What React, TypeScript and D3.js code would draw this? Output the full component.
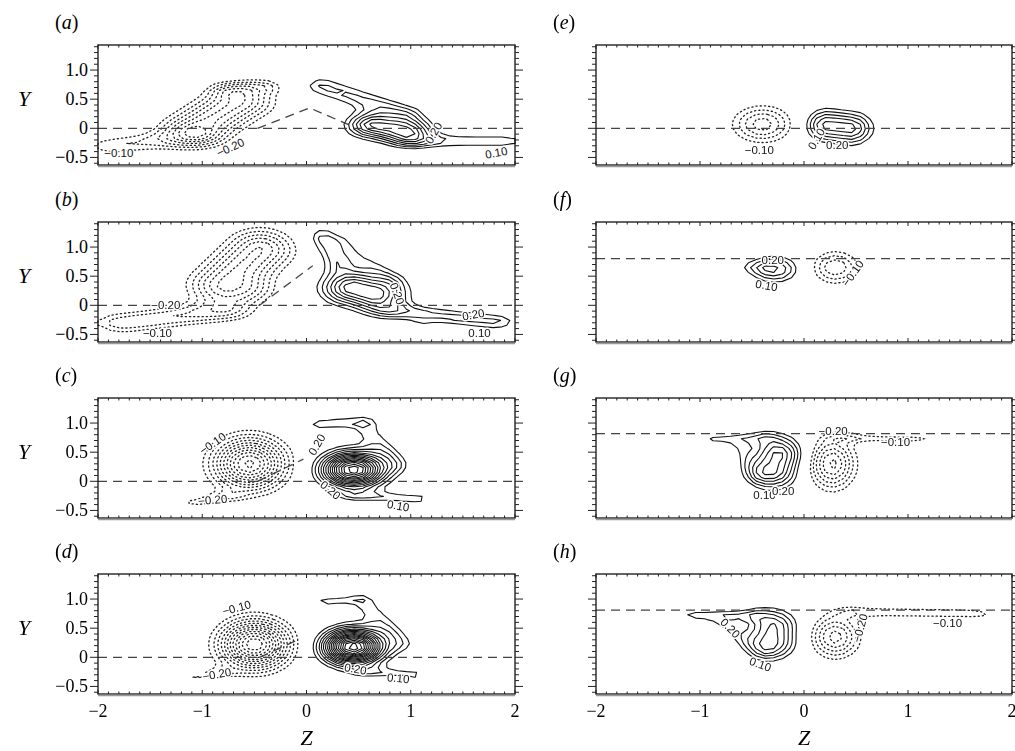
import React from 'react';
import * as d3 from 'd3';

type Blob = [number, number, number, number, number, number, number];
type Lab = [number, number, string, number];

// Field components: [z1, y1, z2, y2, widthZ, widthY, amplitude]
const BLOBS_A: Blob[] = [
  [0.65, 0.05, 0.95, -0.05, 0.17, 0.15, 0.42],
  [0.15, 0.72, 0.95, 0.25, 0.12, 0.12, 0.16],
  [1.1, -0.22, 1.85, -0.22, 0.18, 0.09, 0.14],
  [-1.85, -0.3, -1.1, -0.15, 0.18, 0.12, -0.15],
  [-1.05, 0.0, -0.65, 0.45, 0.22, 0.2, -0.36],
  [-0.75, 0.65, -0.4, 0.72, 0.12, 0.09, -0.13],
];
const BLOBS_B: Blob[] = [
  [0.45, 0.3, 0.65, 0.2, 0.2, 0.2, 0.45],
  [0.15, 1.15, 0.3, 0.75, 0.1, 0.14, 0.17],
  [0.35, 1.1, 0.8, 0.45, 0.1, 0.1, 0.08],
  [0.85, -0.1, 1.8, -0.28, 0.15, 0.1, 0.17],
  [1.1, -0.32, 1.1, -0.32, 0.08, 0.05, 0.06],
  [-0.8, 0.35, -0.45, 0.95, 0.22, 0.24, -0.36],
  [-1.75, -0.3, -0.8, -0.1, 0.2, 0.13, -0.2],
  [-0.5, 0.25, -0.5, 0.25, 0.15, 0.15, -0.12],
];
const BLOBS_C: Blob[] = [
  [0.45, 0.2, 0.45, 0.2, 0.2, 0.2, 0.85],
  [0.12, 0.98, 0.55, 1.02, 0.08, 0.08, 0.14],
  [0.6, 0.85, 0.85, 0.3, 0.1, 0.12, 0.12],
  [0.5, -0.25, 1.05, -0.3, 0.15, 0.07, 0.13],
  [-0.55, 0.3, -0.55, 0.3, 0.23, 0.3, -0.62],
  [-1.1, -0.38, -0.75, -0.25, 0.1, 0.07, -0.12],
];
const BLOBS_D: Blob[] = [
  [0.45, 0.18, 0.45, 0.18, 0.19, 0.2, 0.95],
  [0.18, 0.95, 0.5, 1.0, 0.08, 0.07, 0.13],
  [0.6, 0.85, 0.9, 0.25, 0.1, 0.12, 0.12],
  [0.6, -0.25, 1.05, -0.3, 0.12, 0.07, 0.12],
  [-0.5, 0.22, -0.5, 0.22, 0.22, 0.28, -0.7],
  [-1.1, -0.35, -0.8, -0.25, 0.1, 0.07, -0.1],
];
const BLOBS_E: Blob[] = [
  [0.22, 0.05, 0.45, 0.0, 0.14, 0.19, 0.33],
  [-0.4, 0.07, -0.4, 0.07, 0.2, 0.22, -0.28],
];
const BLOBS_F: Blob[] = [
  [-0.28, 0.62, -0.28, 0.62, 0.16, 0.16, 0.26],
  [-0.55, 0.66, -0.4, 0.65, 0.06, 0.08, 0.06],
  [0.3, 0.65, 0.3, 0.65, 0.16, 0.2, -0.25],
];
const BLOBS_G: Blob[] = [
  [-0.3, 0.2, -0.25, 0.45, 0.16, 0.22, 0.37],
  [-0.85, 0.72, -0.4, 0.75, 0.1, 0.08, 0.12],
  [-0.6, 0.55, -0.45, 0.1, 0.08, 0.1, 0.08],
  [0.27, 0.3, 0.27, 0.3, 0.15, 0.3, -0.37],
  [0.45, 0.75, 1.05, 0.72, 0.15, 0.06, -0.13],
];
const BLOBS_H: Blob[] = [
  [-0.3, 0.3, -0.3, 0.5, 0.16, 0.22, 0.32],
  [-1.05, 0.72, -0.5, 0.72, 0.1, 0.08, 0.13],
  [-0.75, 0.55, -0.4, 0.1, 0.1, 0.1, 0.1],
  [0.3, 0.35, 0.3, 0.35, 0.16, 0.25, -0.33],
  [0.5, 0.78, 1.65, 0.75, 0.15, 0.08, -0.13],
];

const LABELS_A: Lab[] = [[-1.8, -0.43, '−0.10', 0], [-0.73, -0.33, '−0.20', -25], [1.82, -0.42, '0.10', -10], [1.22, -0.08, '0.20', -60]];
const LABELS_B: Lab[] = [[-1.35, 0.0, '−0.20', 0], [-1.43, -0.47, '−0.10', 0], [0.87, 0.2, '0.20', 70], [1.6, -0.16, '0.20', -10], [1.66, -0.47, '0.10', 0]];
const LABELS_C: Lab[] = [[-0.9, 0.65, '−0.10', -35], [-0.9, -0.32, '−0.20', -5], [0.1, 0.63, '0.20', -60], [0.23, -0.15, '0.20', 40], [0.88, -0.42, '0.10', 10]];
const LABELS_D: Lab[] = [[-0.67, 0.85, '−0.10', -15], [-0.86, -0.29, '−0.20', -10], [0.47, -0.2, '0.20', 10], [0.88, -0.36, '0.10', 5]];
const LABELS_E: Lab[] = [[-0.43, -0.38, '−0.10', 0], [0.12, -0.18, '0.10', -60], [0.32, -0.28, '0.20', 0]];
const LABELS_F: Lab[] = [[-0.3, 0.78, '0.20', 0], [-0.36, 0.34, '0.10', 10], [0.47, 0.55, '−0.10', -55]];
const LABELS_G: Lab[] = [[0.28, 0.86, '−0.20', 0], [0.88, 0.68, '−0.10', 0], [-0.38, -0.23, '0.10', 0], [-0.2, -0.16, '0.20', 0]];
const LABELS_H: Lab[] = [[-0.71, 0.5, '0.20', 45], [-0.42, -0.12, '0.10', 20], [0.54, 0.5, '−0.20', -75], [1.38, 0.59, '−0.10', 0]];

const DASH_A: [number, number][] = [[-0.47, 0], [0.03, 0.35], [0.42, 0.05]];
const DASH_B: [number, number][] = [[-0.45, 0.0], [0.06, 0.68]];
const DASH_C: [number, number][] = [[-0.47, 0.0], [-0.03, 0.38]];
const DASH_D: [number, number][] = [[-0.45, 0.0], [-0.08, 0.3]];

const PANEL_IDS = ['a', 'b', 'c', 'd', 'e', 'f', 'g', 'h'];
const BLOBS = [BLOBS_A, BLOBS_B, BLOBS_C, BLOBS_D, BLOBS_E, BLOBS_F, BLOBS_G, BLOBS_H];
const LABELS = [LABELS_A, LABELS_B, LABELS_C, LABELS_D, LABELS_E, LABELS_F, LABELS_G, LABELS_H];
const EXTRA_DASH = [DASH_A, DASH_B, DASH_C, DASH_D, [], [], [], []];
const BASELINES = [0, 0, 0, 0, 0, 0.8, 0.82, 0.81];

const LEVELS = [0.10, 0.15, 0.20, 0.25, 0.30, 0.35, 0.40, 0.45, 0.50, 0.55, 0.60, 0.65, 0.70, 0.75, 0.80, 0.85, 0.90, 0.95];
const Y_TICKS = [-0.5, 0, 0.5, 1.0];
const Y_TICK_LABELS = ['−0.5', '0', '0.5', '1.0'];
const Z_TICKS = [-2, -1, 0, 1, 2];
const Z_TICK_LABELS = ['−2', '−1', '0', '1', '2'];

const Z_DOMAIN: [number, number] = [-2, 2];
const Y_DOMAIN: [number, number] = [-0.63, 1.43];
const COL_X: [number, number][] = [[98, 515], [596, 1012]];
const ROW_TOP = [45, 222, 398, 574];
const PANEL_H = 120;

const NZ = 48;
const NY = 25;

function fieldAt(blobs: Blob[], z: number, y: number) {
  let s = 0;
  for (const [z1, y1, z2, y2, wz, wy, a] of blobs) {
    const ax = z1 / wz, ay = y1 / wy, bx = z2 / wz, by = y2 / wy;
    const px = z / wz, py = y / wy;
    const dx = bx - ax, dy = by - ay;
    const L = dx * dx + dy * dy;
    let t = L > 0 ? ((px - ax) * dx + (py - ay) * dy) / L : 0;
    t = Math.max(0, Math.min(1, t));
    const qx = ax + t * dx - px, qy = ay + t * dy - py;
    s += a * Math.exp(-(qx * qx + qy * qy) / 2);
  }
  return s;
}

const SERIF = 'Liberation Serif, DejaVu Serif, serif';
const SANS = 'Liberation Sans, Arial, sans-serif';

function Panel({ idx }: { idx: number }) {
  const col = idx < 4 ? 0 : 1;
  const row = idx % 4;
  const top = ROW_TOP[row];
  const [x0, x1] = COL_X[col];
  const xs = d3.scaleLinear().domain(Z_DOMAIN).range([x0, x1]);
  const ys = d3.scaleLinear().domain(Y_DOMAIN).range([top + PANEL_H, top]);
  const dz = (Z_DOMAIN[1] - Z_DOMAIN[0]) / NZ;
  const dy = (Y_DOMAIN[1] - Y_DOMAIN[0]) / NY;
  const blobs = BLOBS[idx];
  const pos: number[] = new Array(NZ * NY);
  const neg: number[] = new Array(NZ * NY);
  for (let j = 0; j < NY; j++) {
    for (let i = 0; i < NZ; i++) {
      const v = fieldAt(blobs, Z_DOMAIN[0] + (i + 0.5) * dz, Y_DOMAIN[0] + (j + 0.5) * dy);
      pos[j * NZ + i] = v;
      neg[j * NZ + i] = -v;
    }
  }
  const gen = d3.contours().size([NZ, NY]).thresholds(LEVELS);
  const proj = d3.geoTransform({
    point(x: number, y: number) {
      (this as any).stream.point(xs(Z_DOMAIN[0] + x * dz), ys(Y_DOMAIN[0] + y * dy));
    },
  });
  const path = d3.geoPath(proj as any);
  const posC = gen(pos);
  const negC = gen(neg);

  const zMinor = d3.range(-20, 21).map((k) => k / 10);
  const yMinor = d3.range(-6, 15).map((k) => k / 10);
  const isMajorY = (v: number) => Math.abs(v * 2 - Math.round(v * 2)) < 1e-6;
  const isMajorZ = (v: number) => Math.abs(v - Math.round(v)) < 1e-6;
  const line = d3.line<[number, number]>().x((d) => xs(d[0])).y((d) => ys(d[1]));
  const letter = PANEL_IDS[idx];
  const bottom = top + PANEL_H;

  return (
    <g>
      <text x={x0 - 43} y={top - 16} fontFamily={SERIF} fontSize={20}>
        (<tspan fontStyle="italic">{letter}</tspan>)
      </text>
      {col === 0 && (
        <text x={24} y={ys(0.5) + 7} fontFamily={SERIF} fontSize={22} fontStyle="italic" textAnchor="middle">Y</text>
      )}
      {col === 0 && Y_TICKS.map((t, k) => (
        <text key={k} x={x0 - 10} y={ys(t) + 6} fontFamily={SERIF} fontSize={18} textAnchor="end">{Y_TICK_LABELS[k]}</text>
      ))}
      {row === 3 && Z_TICKS.map((t, k) => (
        <text key={k} x={xs(t)} y={bottom + 23} fontFamily={SERIF} fontSize={18} textAnchor="middle">{Z_TICK_LABELS[k]}</text>
      ))}
      {row === 3 && (
        <text x={xs(0)} y={bottom + 51} fontFamily={SERIF} fontSize={22} fontStyle="italic" textAnchor="middle">Z</text>
      )}
      {posC.map((c, k) => (
        <path key={'p' + k} d={path(c as any) || ''} fill="none" stroke="#111" strokeWidth={1.1} strokeLinejoin="round" />
      ))}
      {negC.map((c, k) => (
        <path key={'n' + k} d={path(c as any) || ''} fill="none" stroke="#222" strokeWidth={1.3} strokeDasharray="1.2 3" strokeLinecap="round" />
      ))}
      <line x1={x0} x2={x1} y1={ys(BASELINES[idx])} y2={ys(BASELINES[idx])} stroke="#444" strokeWidth={1.3} strokeDasharray="9 6" />
      {EXTRA_DASH[idx].length > 0 && (
        <path d={line(EXTRA_DASH[idx] as [number, number][]) || ''} fill="none" stroke="#444" strokeWidth={1.3} strokeDasharray="9 6" />
      )}
      <g opacity={0.99}>
        {LABELS[idx].map(([z, y, s, r], k) => (
          <text key={k} x={0} y={0} transform={`translate(${xs(z)},${ys(y)}) rotate(${r})`} fontFamily={SANS} fontSize={11.5}
            textAnchor="middle" dominantBaseline="central" stroke="#fff" strokeWidth={3} paintOrder="stroke" fill="#111">{s}</text>
        ))}
      </g>
      <rect x={x0} y={top} width={x1 - x0} height={PANEL_H} fill="none" stroke="#111" strokeWidth={1.3} />
      <line x1={x0} x2={x1} y1={bottom + 1.5} y2={bottom + 1.5} stroke="#999" strokeWidth={1.5} />
      {zMinor.map((v, k) => (
        <g key={'zt' + k}>
          <line x1={xs(v)} x2={xs(v)} y1={top} y2={top + (isMajorZ(v) ? 4 : 2.5)} stroke="#222" strokeWidth={1} />
          <line x1={xs(v)} x2={xs(v)} y1={bottom} y2={bottom - (isMajorZ(v) ? 4 : 2.5)} stroke="#222" strokeWidth={1} />
        </g>
      ))}
      {yMinor.map((v, k) => (
        <g key={'yt' + k}>
          <line x1={x0} x2={x0 - (isMajorY(v) ? 8 : 4)} y1={ys(v)} y2={ys(v)} stroke="#222" strokeWidth={1} />
          <line x1={x1} x2={x1 + (isMajorY(v) ? 8 : 4)} y1={ys(v)} y2={ys(v)} stroke="#222" strokeWidth={1} />
        </g>
      ))}
    </g>
  );
}

export default function App() {
  return (
    <svg width={1015} height={751} style={{ position: 'absolute', left: 0, top: 0, background: '#fff' }}>
      <rect x={0} y={0} width={1015} height={751} fill="#fff" />
      {PANEL_IDS.map((_, i) => <Panel key={i} idx={i} />)}
    </svg>
  );
}
